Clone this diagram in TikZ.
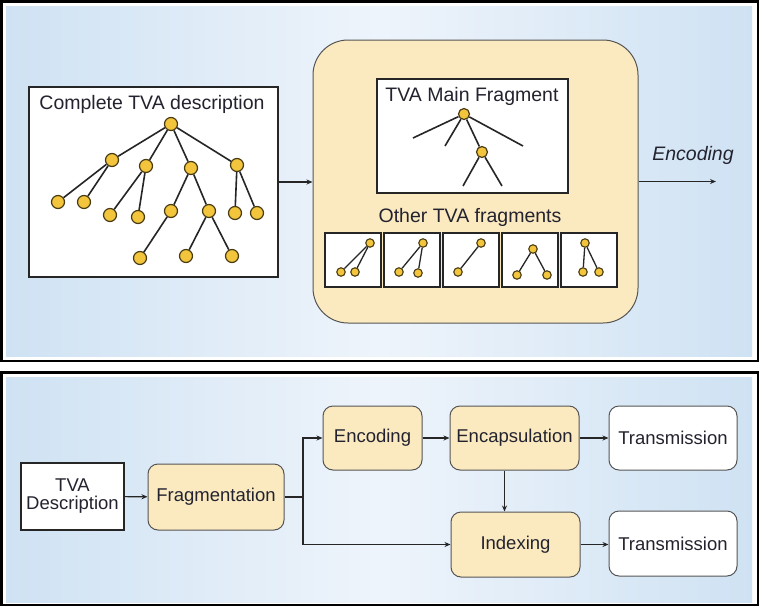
\documentclass[tikz,border=0pt]{standalone}
\usepackage{fontspec}
\setmainfont{Liberation Sans}
\usetikzlibrary{arrows.meta}

\definecolor{panelblue}{HTML}{CFE2F3}
\definecolor{panellight}{HTML}{EEF4FB}
\definecolor{boxbeige}{HTML}{FBEAC0}
\definecolor{nodegold}{HTML}{F2C53D}
\definecolor{nodeline}{HTML}{4A3C12}
\definecolor{boxgray}{HTML}{555555}
\definecolor{inkdark}{HTML}{23232F}

\newcommand{\tvafont}{\fontsize{18.5}{21}\selectfont}
\newcommand{\tvatitlefont}{\fontsize{19.5}{22}\selectfont}

\tikzset{
  leaf/.style={circle, draw=nodeline, fill=nodegold, line width=1.2pt,
    inner sep=0pt, minimum size=13pt},
  twig/.style={leaf, minimum size=8.5pt, line width=1.1pt},
  branch/.style={line width=1.6pt, draw=black!85},
  plainbox/.style={draw=black!85, fill=white, line width=1.3pt},
  stagebox/.style={draw=boxgray, fill=boxbeige, rounded corners=10pt,
    line width=1pt, text=inkdark, font=\tvafont},
  sendbox/.style={stagebox, fill=white},
  flow/.style={-{Stealth[length=6pt,width=5pt]}, line width=1.1pt, draw=black!85},
  caption/.style={text=inkdark, font=\tvatitlefont}
}

\begin{document}
\begin{tikzpicture}[x=1pt, y=-1pt]
    \useasboundingbox[fill=white] (0,0) rectangle (772,614);

    % Frames with shaded panels
    \shade[left color=panelblue, right color=panelblue, middle color=panellight]
      (6,6) rectangle (752,356);
    \draw[line width=2.5pt] (1.5,1.5) rectangle (758,361);
    \shade[left color=panelblue, right color=panelblue, middle color=panellight]
      (6,377) rectangle (752,602);
    \draw[line width=2.5pt] (1.5,372.5) rectangle (758,605);

    % Complete description with its tree
    \node[plainbox, minimum width=249pt, minimum height=190pt] (full) at (153.5,182) {};
    \node[caption] (fulltitle) at (152,104) {Complete TVA description};

    \node[leaf] (r) at (171,124) {};
    \node[leaf] (a) at (112,160) {};
    \node[leaf] (b) at (146,166) {};
    \node[leaf] (c) at (191,168) {};
    \node[leaf] (d) at (237,165) {};
    \node[leaf] (a1) at (58,202) {};
    \node[leaf] (a2) at (84,202) {};
    \node[leaf] (b1) at (110,215) {};
    \node[leaf] (b2) at (138,217) {};
    \node[leaf] (c1) at (171,211) {};
    \node[leaf] (c2) at (209,211) {};
    \node[leaf] (d1) at (235,213) {};
    \node[leaf] (d2) at (257,213) {};
    \node[leaf] (c11) at (140,258) {};
    \node[leaf] (c21) at (186,256) {};
    \node[leaf] (c22) at (232,256) {};
    \foreach \p/\q in {r/a, r/b, r/c, r/d, a/a1, a/a2, b/b1, b/b2, c/c1, c/c2,
                       d/d1, d/d2, c1/c11, c2/c21, c2/c22}
      \draw[branch] (\p) -- (\q);

    % Fragment container
    \node[draw=boxgray, fill=boxbeige, rounded corners=35pt, line width=1pt,
          minimum width=325pt, minimum height=283pt] (frag) at (475.5,181.5) {};
    \draw[flow] (full.east) -- (full.east -| frag.west);

    % Main fragment
    \node[plainbox, minimum width=191pt, minimum height=114pt] (mainbox) at (472.5,136) {};
    \node[caption] (maintitle) at (472,96) {TVA Main Fragment};
    \node[leaf, minimum size=11pt] (mr) at (464,114) {};
    \node[leaf, minimum size=11pt] (mc) at (482,152) {};
    \coordinate (m1) at (413,138);
    \coordinate (m2) at (445,146);
    \coordinate (m3) at (523,146);
    \coordinate (m4) at (463,186);
    \coordinate (m5) at (502,186);
    \foreach \p/\q in {mr/m1, mr/m2, mr/m3, mr/mc, mc/m4, mc/m5}
      \draw[branch] (\p) -- (\q);

    % Other fragments
    \node[caption] (othertitle) at (470,217) {Other TVA fragments};
    \foreach \i/\x in {1/353, 2/412, 3/471, 4/530, 5/589}
      \node[plainbox, minimum width=56pt, minimum height=54pt] (box\i) at (\x,260) {};

    \node[twig] (f1t) at (370,243) {};
    \node[twig] (f1a) at (341,272) {};
    \node[twig] (f1b) at (355,272) {};
    \node[twig] (f2t) at (423,243) {};
    \node[twig] (f2a) at (399,272) {};
    \node[twig] (f2b) at (418,273) {};
    \node[twig] (f3t) at (481,243) {};
    \node[twig] (f3a) at (458,272) {};
    \node[twig] (f4t) at (533,249) {};
    \node[twig] (f4a) at (517,275) {};
    \node[twig] (f4b) at (547,275) {};
    \node[twig] (f5t) at (585,243) {};
    \node[twig] (f5a) at (583,272) {};
    \node[twig] (f5b) at (599,272) {};
    \foreach \p/\q in {f1t/f1a, f1t/f1b, f2t/f2a, f2t/f2b, f3t/f3a,
                       f4t/f4a, f4t/f4b, f5t/f5a, f5t/f5b}
      \draw[branch, line width=1.3pt] (\p) -- (\q);

    % Encoding output
    \coordinate (out) at (716,181.5);
    \draw[flow] (frag.east) -- (out);
    \node[caption, font=\tvatitlefont\itshape] (enclabel) at (693,155) {Encoding};

    % Lower chain
    \node[plainbox, text=inkdark, font=\tvafont, align=center, inner sep=0pt,
          minimum width=103pt, minimum height=67pt] (desc) at (72.5,496.5)
          {TVA\\[-3pt]Description};
    \node[stagebox, minimum width=136pt, minimum height=66pt] (fragm) at (216,497) {Fragmentation};
    \node[stagebox, minimum width=99pt, minimum height=64pt] (enc) at (372.5,438) {Encoding};
    \node[stagebox, minimum width=129pt, minimum height=64pt] (encap) at (514.5,438) {Encapsulation};
    \node[sendbox, minimum width=128pt, minimum height=64pt] (tx1) at (673,438) {Transmission};
    \node[stagebox, minimum width=129pt, minimum height=65pt] (idx) at (515.5,544.5) {Indexing};
    \node[sendbox, minimum width=128pt, minimum height=65pt] (tx2) at (673,543.5) {Transmission};
    \coordinate (split) at (303,497);

    \draw[flow] (desc) -- (fragm);
    \draw[line width=1.1pt, draw=black!85] (fragm.east) -- (split);
    \draw[flow] (split) |- (enc);
    \draw[flow] (split) |- (idx);
    \draw[flow] (enc) -- (encap);
    \draw[flow] (encap) -- (tx1);
    \draw[flow] ([xshift=-10pt]encap.south) -- ([xshift=-11pt]idx.north);
    \draw[flow] (idx.east) -- (idx.east -| tx2.west);
\end{tikzpicture}
\end{document}
